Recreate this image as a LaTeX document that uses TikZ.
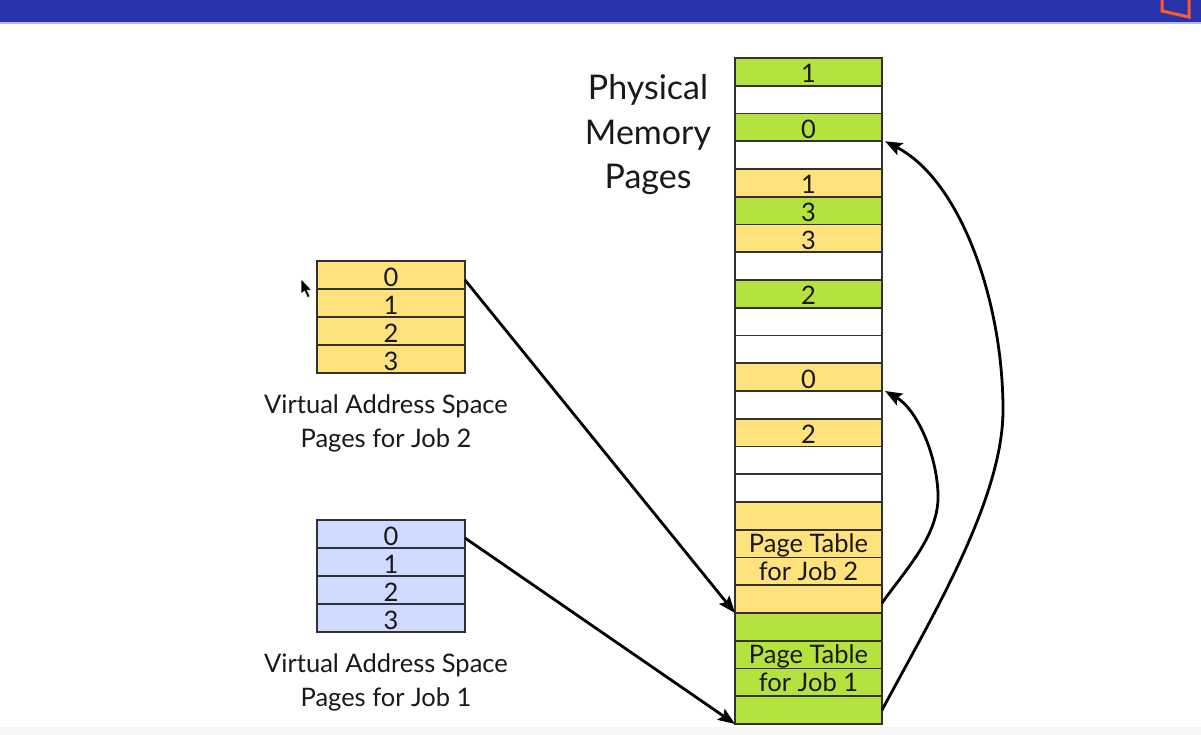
\documentclass[tikz,border=0pt]{standalone}
\usepackage{fontspec}
\setmainfont{Lato}
\usetikzlibrary{arrows.meta}
\definecolor{pgreen}{RGB}{180,226,62}
\definecolor{pyellow}{RGB}{255,226,124}
\definecolor{pblue}{RGB}{206,218,255}
\definecolor{barblue}{RGB}{42,52,170}
\definecolor{edgegray}{RGB}{50,50,50}
\definecolor{txt}{RGB}{25,25,25}
\definecolor{logoorange}{RGB}{255,90,40}
\begin{document}
\begin{tikzpicture}[x=1pt,y=-1pt,
  cell/.style={draw=edgegray, line width=1.8pt, minimum width=147pt, minimum height=27.75pt, inner sep=0pt, outer sep=0pt},
  vcell/.style={cell, minimum width=148pt, minimum height=28pt},
  num/.style={font=\fontsize{25.5}{25.5}\selectfont, text=txt, inner sep=0pt, anchor=base},
  capline/.style={font=\fontsize{25.5}{25.5}\selectfont, text=txt, inner sep=0pt, anchor=base},
  bigline/.style={font=\fontsize{34}{34}\selectfont, text=txt, inner sep=0pt, anchor=base},
  arr/.style={line width=2.8pt, draw=black, -{Stealth[length=17pt,width=13pt,inset=3pt]}}]
\useasboundingbox (0,0) rectangle (1201,735);
\fill[white] (0,0) rectangle (1201,735);
% top bar and bottom shade
\fill[barblue] (0,0) rectangle (1201,22);
\fill[barblue!35] (0,22) rectangle (1201,24);
\draw[logoorange, line width=3pt] (1162,0) -- (1162,11) -- (1189,17) -- (1189,0);
\fill[gray!8] (0,727) rectangle (1201,735);

% physical memory column
\foreach \i/\c in {0/pgreen,1/white,2/pgreen,3/white,4/pyellow,5/pgreen,6/pyellow,7/white,8/pgreen,9/white,10/white,11/pyellow,12/white,13/pyellow,14/white,15/white,16/pyellow,17/pyellow,18/pyellow,19/pyellow,20/pgreen,21/pgreen,22/pgreen,23/pgreen}
  \node[cell, fill=\c] (p\i) at (808.5, {58+27.75*(\i+0.5)}) {};

\node[num] (l0)  at ([yshift=3pt]p0.south)  {1};
\node[num] (l2)  at ([yshift=3pt]p2.south)  {0};
\node[num] (l4)  at ([yshift=3pt]p4.south)  {1};
\node[num] (l5)  at ([yshift=3pt]p5.south)  {3};
\node[num] (l6)  at ([yshift=3pt]p6.south)  {3};
\node[num] (l8)  at ([yshift=3pt]p8.south)  {2};
\node[num] (l11) at ([yshift=3pt]p11.south) {0};
\node[num] (l13) at ([yshift=3pt]p13.south) {2};
\node[num] (l17) at ([yshift=5pt]p17.south) {Page Table};
\node[num] (l18) at ([yshift=5pt]p18.south) {for Job 2};
\node[num] (l21) at ([yshift=5pt]p21.south) {Page Table};
\node[num] (l22) at ([yshift=5pt]p22.south) {for Job 1};

% title
\node[bigline] (t1) at (648,100) {Physical};
\node[bigline] (t2) at (648,145) {Memory};
\node[bigline] (t3) at (648,189) {Pages};

% virtual pages job 2
\foreach \i in {0,1,2,3} {
  \node[vcell, fill=pyellow] (a\i) at (391, {261+28*(\i+0.5)}) {};
  \node[num] (an\i) at ([yshift=3pt]a\i.south) {\i};
}
\node[capline] (c2a) at (386,413) {Virtual Address Space};
\node[capline] (c2b) at (386,447) {Pages for Job 2};

% virtual pages job 1
\foreach \i in {0,1,2,3} {
  \node[vcell, fill=pblue] (b\i) at (391, {520+28*(\i+0.5)}) {};
  \node[num] (bn\i) at ([yshift=3pt]b\i.south) {\i};
}
\node[capline] (c1a) at (386,672) {Virtual Address Space};
\node[capline] (c1b) at (386,706) {Pages for Job 1};

% connectors
\draw[arr] ([yshift=-5pt]a0.east) -- (p19.south west);
\draw[arr] ([yshift=-4pt]b0.east) -- (p23.south west);
\draw[arr] ([yshift=-4pt]p19.east) .. controls (905,570) and (940,535) .. (938,493)
   .. controls (936,450) and (915,408) .. ([xshift=3pt]p11.south east);
\draw[arr] (p23.east) .. controls (930,620) and (1003,500) .. (1003,410)
   .. controls (1003,300) and (960,180) .. ([xshift=3pt]p2.south east);

% mouse pointer
\filldraw[fill=black, draw=white, line width=0.5pt] (301,279) -- (301,294) -- (304.5,291) -- (307.5,297.5) -- (310,296.5) -- (307,290) -- (311.5,290) -- cycle;
\end{tikzpicture}
\end{document}
